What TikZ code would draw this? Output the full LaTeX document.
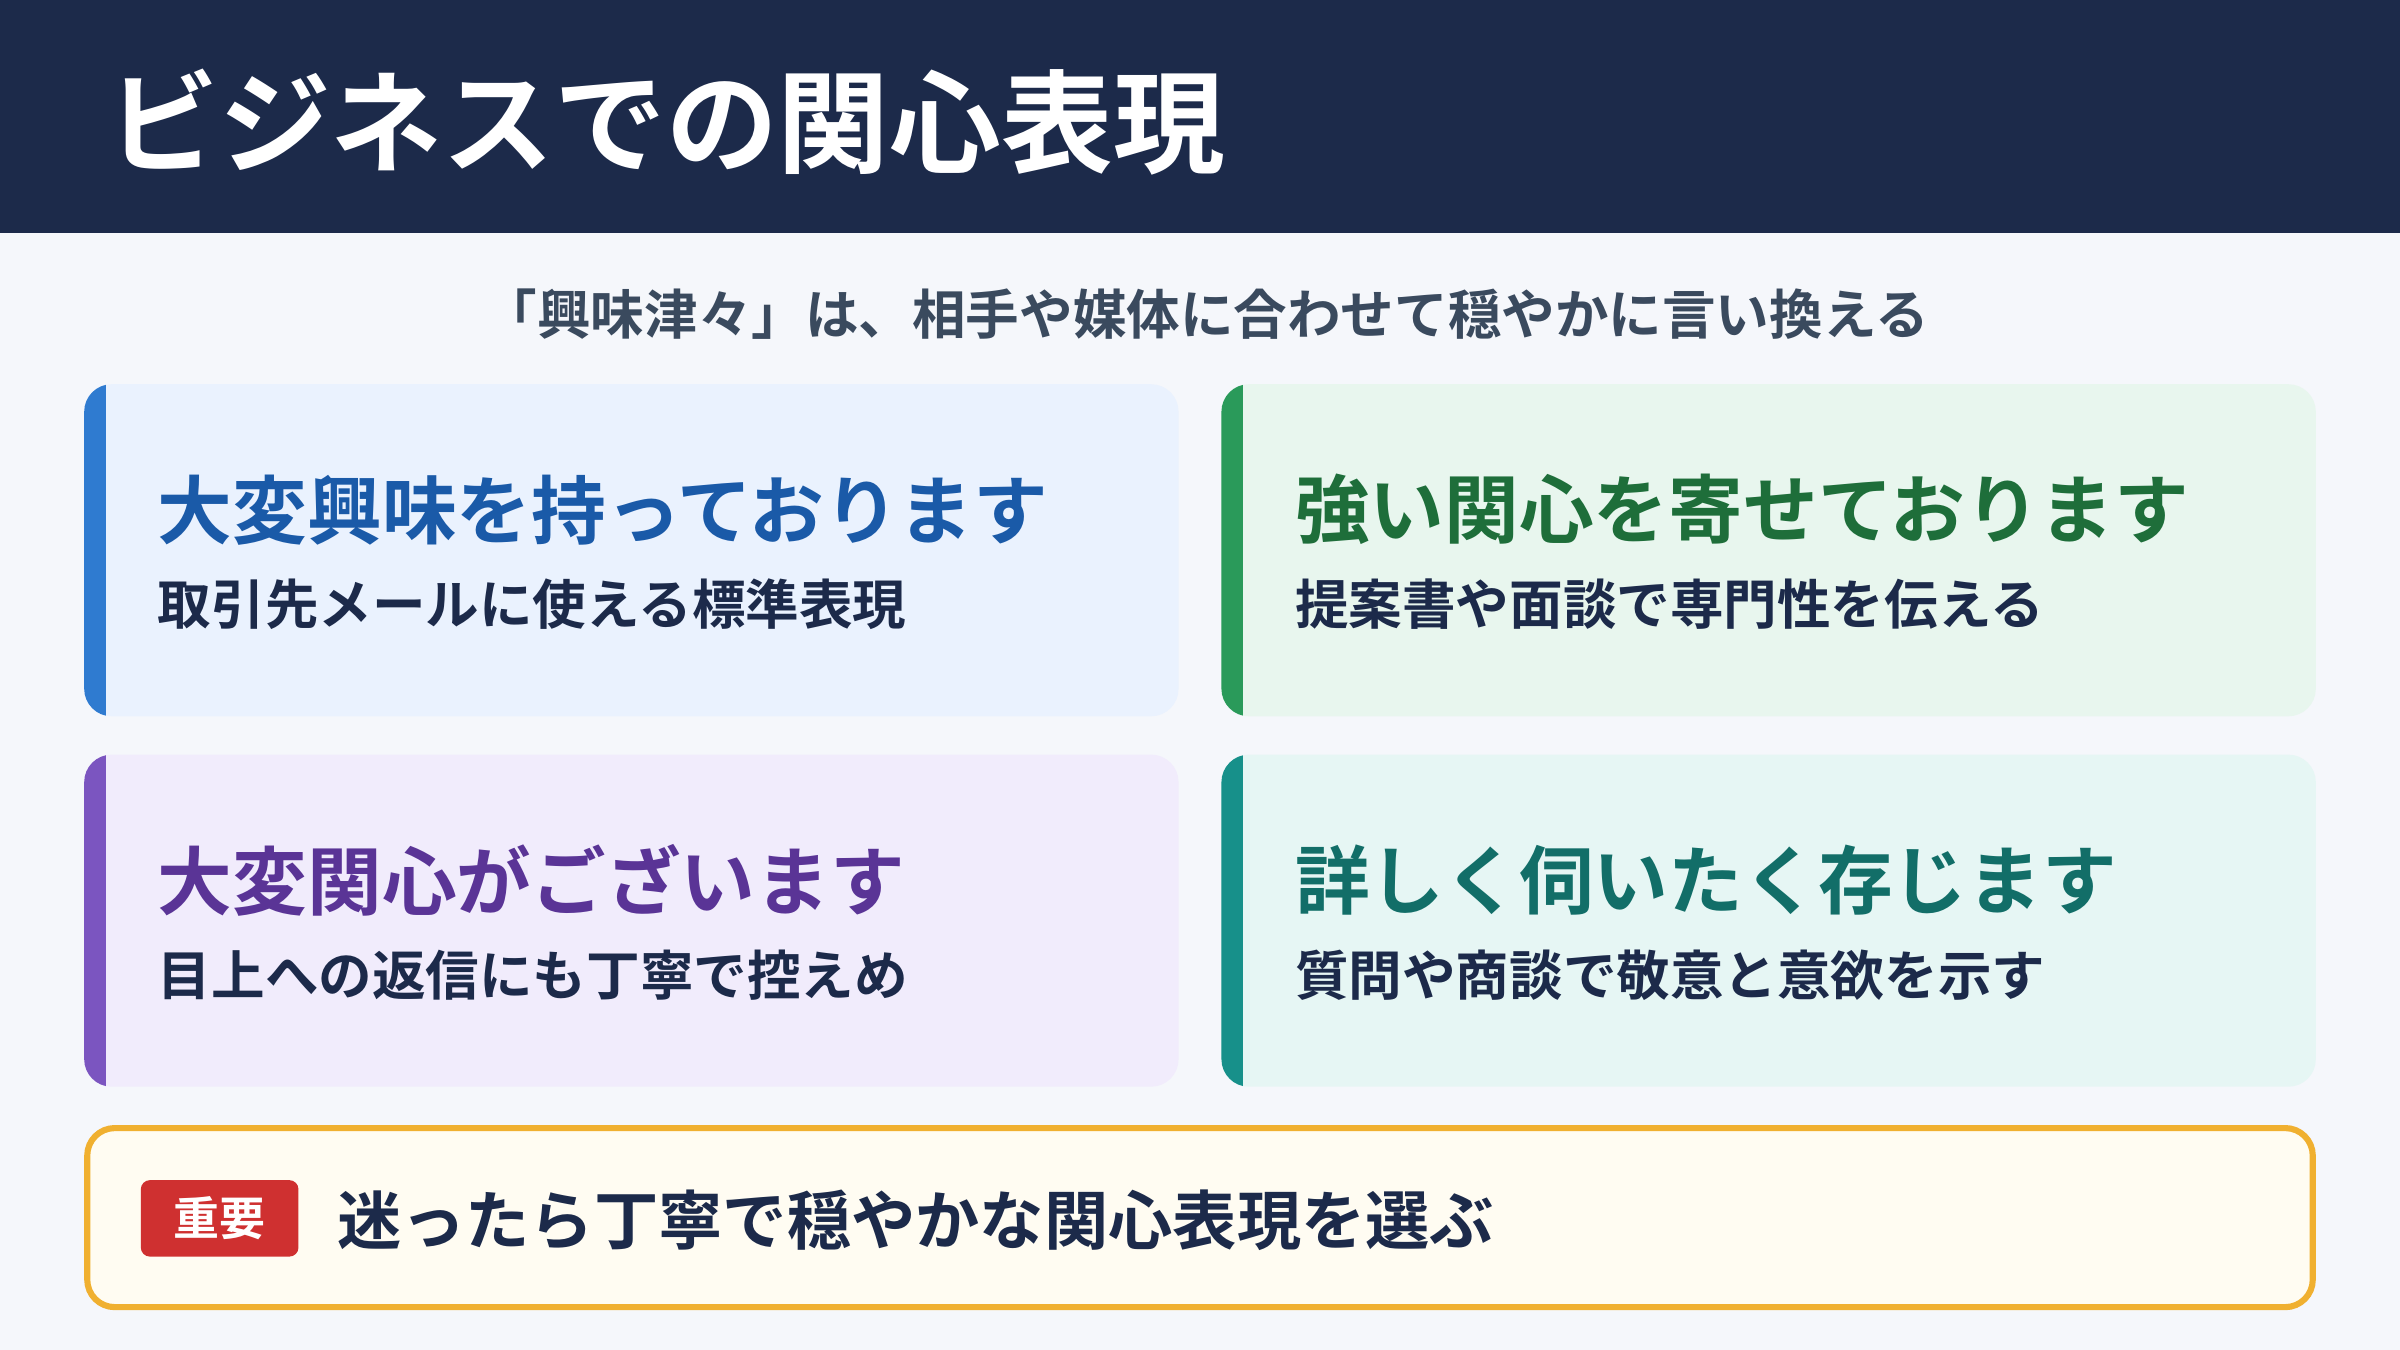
\documentclass[tikz,border=0pt]{standalone}
\usetikzlibrary{calc}
\usepackage{fontspec}
\newfontfamily\cjk{Noto Sans CJK JP}[BoldFont={Noto Sans CJK JP Bold}]
\definecolor{bg}{HTML}{F5F7FB}
\definecolor{hdr}{HTML}{1C2A4A}
\definecolor{sub}{HTML}{3A4A5E}
\definecolor{dark}{HTML}{1C2A4A}
\definecolor{fa}{HTML}{EAF2FE}\definecolor{aa}{HTML}{2F7BD0}\definecolor{ta}{HTML}{1A5AA8}
\definecolor{fb}{HTML}{E8F6EE}\definecolor{ab}{HTML}{2A9A5A}\definecolor{tb}{HTML}{1E6E3A}
\definecolor{fc}{HTML}{F1ECFC}\definecolor{ac}{HTML}{7B55C0}\definecolor{tc}{HTML}{5A3496}
\definecolor{fd}{HTML}{E6F6F4}\definecolor{ad}{HTML}{17908A}\definecolor{td}{HTML}{126E68}
\definecolor{gold}{HTML}{F0B030}\definecolor{cream}{HTML}{FFFCF2}\definecolor{red}{HTML}{CF3030}
\begin{document}
\begin{tikzpicture}[x=1pt,y=-1pt,
  ctitle/.style={anchor=west,inner sep=0pt,font=\cjk\bfseries\fontsize{48.8}{52}\selectfont},
  csub/.style={anchor=west,inner sep=0pt,text=dark,font=\cjk\bfseries\fontsize{35}{40}\selectfont}]
\useasboundingbox (0,0) rectangle (1568,882);
\fill[bg] (0,0) rectangle (1568,882);
\fill[hdr] (0,0) rectangle (1568,152);
\node[anchor=west,inner sep=0pt,text=white,font=\cjk\bfseries\fontsize{73}{78}\selectfont] (title) at (70,80) {ビジネスでの関心表現};
\node[inner sep=0pt,text=sub,font=\cjk\bfseries\fontsize{35}{40}\selectfont] (subtitle) at (788,205) {「興味津々」は、相手や媒体に合わせて穏やかに言い換える};
\newcommand\card[9]{%
  \fill[#3,rounded corners=18] (#1,#2) rectangle ++(715,217);
  \begin{scope}\clip[rounded corners=18] (#1,#2) rectangle ++(715,217);
  \fill[#4] (#1,#2) rectangle ++(14,217);\end{scope}
  \node[ctitle,text=#5] (#6t) at ($(#1,#2)+(48,82)$) {#7};
  \node[csub] (#6s) at ($(#1,#2)+(48,144)$) {#8};}
\card{55}{251}{fa}{aa}{ta}{a}{大変興味を持っております}{取引先メールに使える標準表現}{}
\card{798}{251}{fb}{ab}{tb}{b}{強い関心を寄せております}{提案書や面談で専門性を伝える}{}
\card{55}{493}{fc}{ac}{tc}{c}{大変関心がございます}{目上への返信にも丁寧で控えめ}{}
\card{798}{493}{fd}{ad}{td}{d}{詳しく伺いたく存じます}{質問や商談で敬意と意欲を示す}{}
\draw[gold,line width=4,fill=cream,rounded corners=18] (57,737) rectangle (1511,854);
\node[fill=red,rounded corners=6,minimum width=103,minimum height=50,inner sep=0pt,text=white,font=\cjk\bfseries\fontsize{30}{34}\selectfont] (badge) at (143.5,796) {重要};
\node[anchor=west,inner sep=0pt,text=dark,font=\cjk\bfseries\fontsize{42}{46}\selectfont] (note) at (220,797) {迷ったら丁寧で穏やかな関心表現を選ぶ};
\end{tikzpicture}
\end{document}
